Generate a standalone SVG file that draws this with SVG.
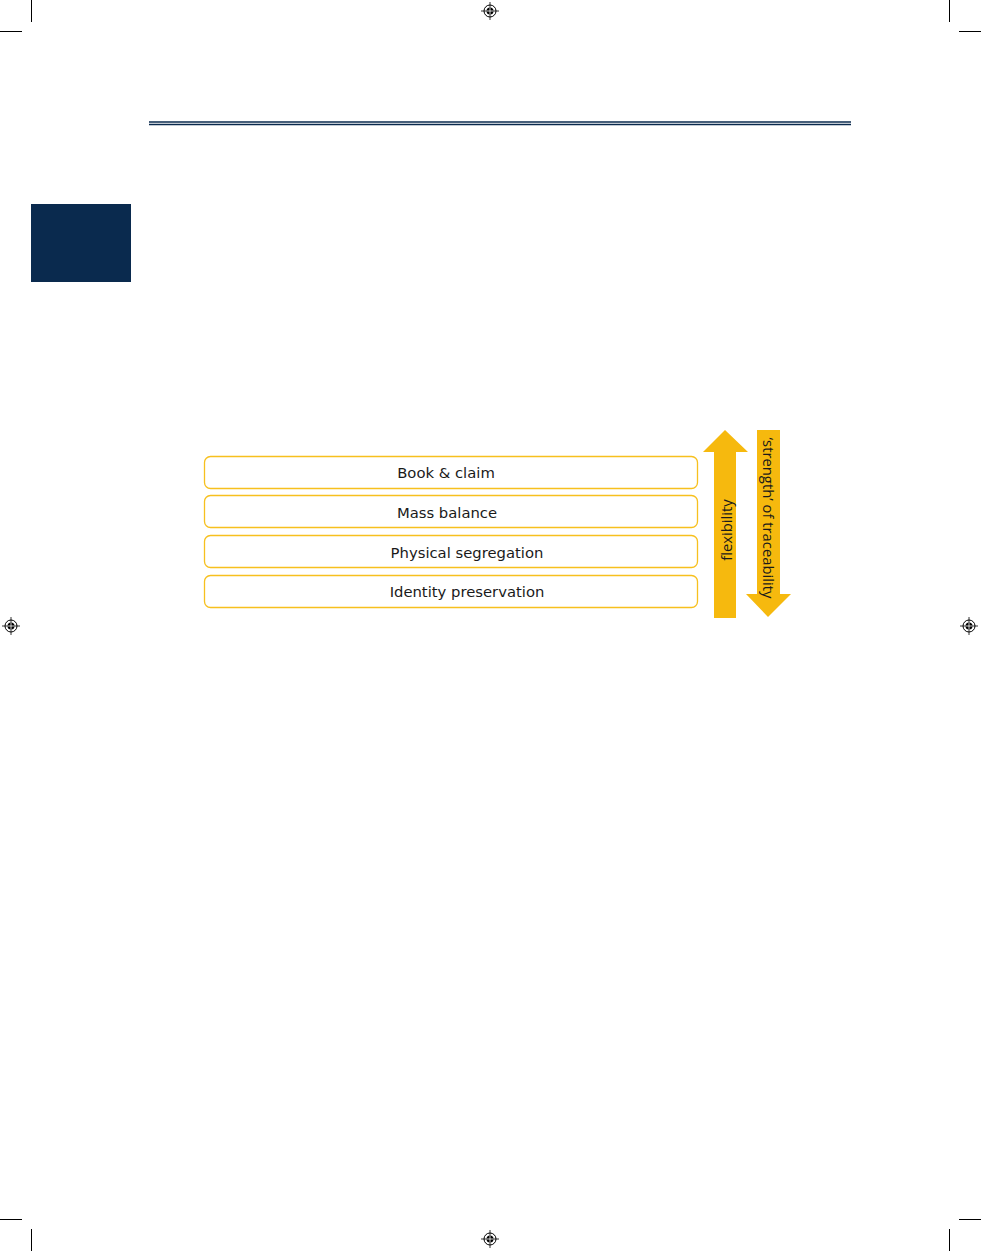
<svg xmlns="http://www.w3.org/2000/svg" width="981" height="1251" viewBox="0 0 981 1251">
<style>
.crop{stroke:#000;stroke-width:1}
.box{fill:#fff;stroke:#F7C01E;stroke-width:1.3}
.lbl{font-family:"DejaVu Sans",Verdana,sans-serif;font-size:14.8px;fill:#1a1a1a;text-anchor:middle}
.arr{fill:#F6B90E}
.alb{font-family:"Open Sans","DejaVu Sans",sans-serif;font-size:14.8px;fill:#1a1a1a;text-anchor:middle}
</style>
<defs>
<g id="reg">
<circle r="6" fill="none" stroke="#000" stroke-width="1"/>
<circle r="3.5" fill="#000"/>
<line x1="-9" y1="0" x2="9" y2="0" stroke="#000" stroke-width="0.8"/>
<line x1="0" y1="-9" x2="0" y2="9" stroke="#000" stroke-width="0.8"/>
<line x1="-3.5" y1="0" x2="3.5" y2="0" stroke="#fff" stroke-width="0.8"/>
<line x1="0" y1="-3.5" x2="0" y2="3.5" stroke="#fff" stroke-width="0.8"/>
</g>
</defs>
<rect width="981" height="1251" fill="#fff"/>
<g id="marks">
<line class="crop" x1="31.5" y1="0" x2="31.5" y2="22"/>
<line class="crop" x1="0" y1="31.5" x2="22" y2="31.5"/>
<line class="crop" x1="949.5" y1="0" x2="949.5" y2="22"/>
<line class="crop" x1="959" y1="31.5" x2="981" y2="31.5"/>
<line class="crop" x1="0" y1="1219.5" x2="22" y2="1219.5"/>
<line class="crop" x1="31.5" y1="1229" x2="31.5" y2="1251"/>
<line class="crop" x1="959" y1="1219.5" x2="981" y2="1219.5"/>
<line class="crop" x1="949.5" y1="1229" x2="949.5" y2="1251"/>
<use href="#reg" x="490" y="11"/>
<use href="#reg" x="11" y="626"/>
<use href="#reg" x="969" y="626"/>
<use href="#reg" x="490" y="1239"/>
</g>
<g id="header">
<line x1="149" y1="122" x2="851" y2="122" stroke="#0a2a4e" stroke-width="1.3"/>
<line x1="149" y1="124.5" x2="851" y2="124.5" stroke="#0a2a4e" stroke-width="1.3"/>
<rect x="31" y="204" width="100" height="78" fill="#0a2a4e"/>
</g>
<g id="book-claim"><rect class="box" x="204.5" y="456.5" width="493" height="32" rx="6"/><text class="lbl" x="446" y="478">Book &amp; claim</text></g>
<g id="mass-balance"><rect class="box" x="204.5" y="495.5" width="493" height="32" rx="6"/><text class="lbl" x="447" y="517.5">Mass balance</text></g>
<g id="physical-segregation"><rect class="box" x="204.5" y="535.5" width="493" height="32" rx="6"/><text class="lbl" x="467" y="557.5">Physical segregation</text></g>
<g id="identity-preservation"><rect class="box" x="204.5" y="575.5" width="493" height="32" rx="6"/><text class="lbl" x="467" y="597">Identity preservation</text></g>
<g id="flexibility-arrow">
<polygon class="arr" points="725,430 748,452 736,452 736,618 714,618 714,452 703,452"/>
<text class="alb" transform="translate(731.5,530) rotate(-90)">flexibility</text>
</g>
<g id="traceability-arrow">
<polygon class="arr" points="757,430 780,430 780,594 791,594 768,617 746,594 757,594"/>
<text class="alb" transform="translate(762.5,518) rotate(90)">‘strength’ of traceability</text>
</g>
</svg>
